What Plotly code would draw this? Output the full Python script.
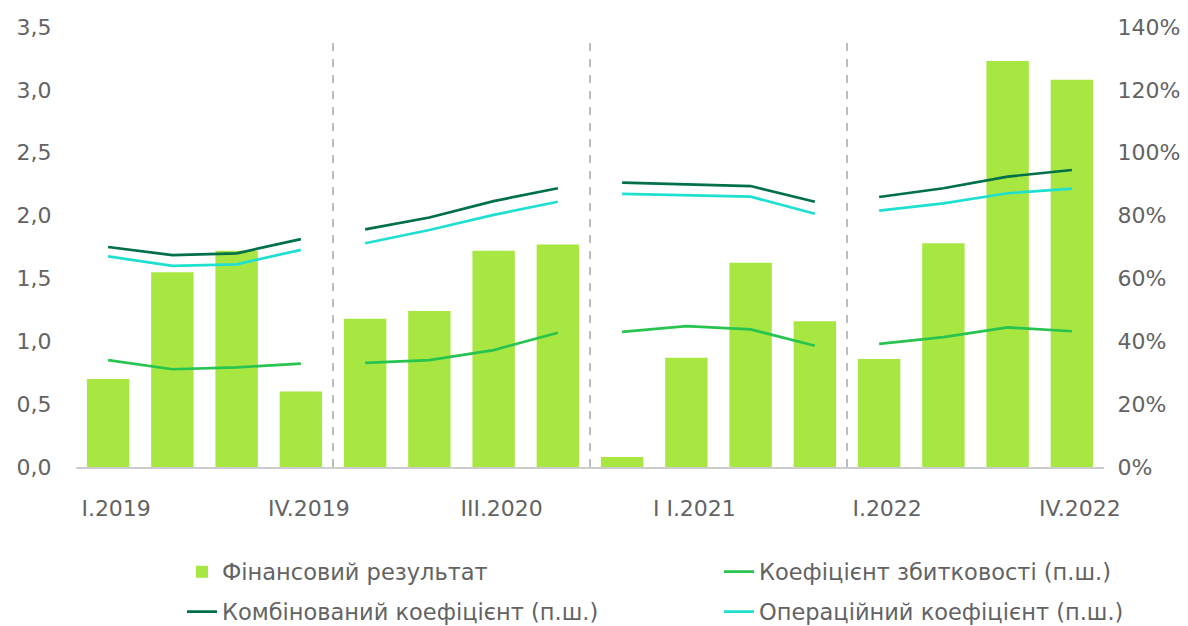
import plotly.graph_objects as go
from plotly.subplots import make_subplots

quarters = ["I.2019", "II.2019", "III.2019", "IV.2019",
            "I.2020", "II.2020", "III.2020", "IV.2020",
            "I.2021", "II.2021", "III.2021", "IV.2021",
            "I.2022", "II.2022", "III.2022", "IV.2022"]
tick_labels = ["I.2019", "IV.2019", "III.2020", "I I.2021", "I.2022", "IV.2022"]
tick_idx = [0, 3, 6, 9, 12, 15]

fin_result = [0.70, 1.55, 1.72, 0.60,
              1.18, 1.24, 1.72, 1.77,
              0.08, 0.87, 1.625, 1.16,
              0.86, 1.78, 3.23, 3.08]
loss_ratio = [34.0, 31.1, 31.7, 32.9,
              33.1, 34.0, 37.2, 42.7,
              43.0, 44.8, 43.8, 38.6,
              39.2, 41.3, 44.4, 43.2]
combined_ratio = [70.0, 67.4, 68.0, 72.5,
                  75.6, 79.4, 84.6, 88.7,
                  90.5, 90.0, 89.4, 84.4,
                  85.9, 88.7, 92.4, 94.5]
operating_ratio = [67.0, 64.0, 64.5, 69.1,
                   71.2, 75.4, 80.2, 84.4,
                   86.9, 86.4, 86.0, 80.6,
                   81.6, 83.9, 87.1, 88.6]

def with_breaks(vals, n=4):
    xs, ys = [], []
    for i, v in enumerate(vals):
        if i > 0 and i % n == 0:
            xs.append(i - 0.5)
            ys.append(None)
        xs.append(i)
        ys.append(v)
    return xs, ys

FONT = "DejaVu Sans"
GRAY = "#636363"

fig = make_subplots(specs=[[{"secondary_y": True}]])

fig.add_trace(go.Bar(x=list(range(len(quarters))), y=fin_result, name="Фінансовий результат",
                     marker=dict(color="#a8e641", line=dict(width=0)), width=0.66,
                     legend="legend"), secondary_y=False)

for name, vals, color, leg in [
    ("Коефіцієнт збитковості (п.ш.)", loss_ratio, "#27c450", "legend2"),
    ("Комбінований коефіцієнт (п.ш.)", combined_ratio, "#00704a", "legend3"),
    ("Операційний коефіцієнт (п.ш.)", operating_ratio, "#1fe0d0", "legend4"),
]:
    xs, ys = with_breaks(vals)
    fig.add_trace(go.Scatter(x=xs, y=ys, mode="lines", name=name,
                             line=dict(color=color, width=2.7),
                             connectgaps=False, legend=leg), secondary_y=True)

for b in [3.5, 7.5, 11.5]:
    fig.add_shape(type="line", xref="x", yref="paper", x0=b, x1=b, y0=0, y1=0.97,
                  line=dict(color="#bdbdbd", width=2, dash="8px,8px"), layer="below")

fig.update_xaxes(range=[-0.5, 15.5], domain=[0, 1], tickvals=tick_idx, ticktext=tick_labels,
                 automargin=False, showgrid=False, zeroline=False, showline=True,
                 linecolor="#cccccc", linewidth=2,
                 ticks="outside", ticklen=21, tickcolor="rgba(0,0,0,0)",
                 tickfont=dict(family=FONT, size=22, color=GRAY), ticklabelshift=8)
fig.update_yaxes(range=[0, 3.5], dtick=0.5, tickformat=".1f", showgrid=False, zeroline=False,
                 automargin=False, ticks="outside", ticklen=19, tickcolor="rgba(0,0,0,0)",
                 tickfont=dict(family=FONT, size=22, color=GRAY), secondary_y=False)
fig.update_yaxes(range=[0, 140], dtick=20, ticksuffix="%", showgrid=False, zeroline=False,
                 automargin=False, ticks="outside", ticklen=8, tickcolor="rgba(0,0,0,0)",
                 tickfont=dict(family=FONT, size=22, color=GRAY), secondary_y=True)

def leg(x, y):
    return dict(orientation="h", xref="container", yref="container",
                x=x / 1188, y=1 - y / 626, xanchor="left", yanchor="middle",
                font=dict(family=FONT, size=22.5, color=GRAY), bgcolor="rgba(0,0,0,0)")

fig.update_layout(
    width=1188, height=626,
    margin=dict(l=68, r=92, t=19, b=167, autoexpand=False),
    plot_bgcolor="white", paper_bgcolor="white",
    separators=", ",
    bargap=0.34,
    showlegend=True,
    legend=leg(174, 564),
    legend2=leg(711, 564),
    legend3=leg(174, 604),
    legend4=leg(711, 604),
)

fig.write_html("out.html")
